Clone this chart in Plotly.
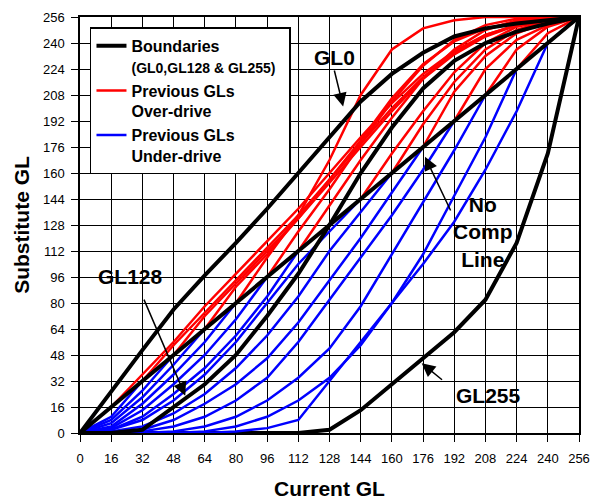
import plotly.graph_objects as go

# ---- data ----
current_gl = [0, 16, 32, 48, 64, 80, 96, 112, 128, 144, 160, 176, 192, 208, 224, 240, 256]
tick_labels = [str(v) for v in current_gl]

# Substitute GL for each previous GL (one value per current GL above)
gl0 = [0, 26, 51, 76, 97, 117, 138, 160, 182, 204, 221, 234, 244, 249, 252, 254, 256]
gl16 = [0, 16, 36, 56, 78, 98, 118, 138, 160, 182, 203, 221, 235, 245, 251, 255, 256]
gl32 = [0, 10, 32, 54, 74, 94, 114, 134, 156, 178, 200, 219, 234, 245, 251, 255, 256]
gl48 = [0, 8, 26, 48, 72, 92, 112, 132, 154, 176, 198, 218, 233, 244, 251, 254, 256]
gl64 = [0, 6, 22, 42, 64, 90, 110, 132, 156, 180, 206, 227, 241, 249, 253, 255, 256]
gl80 = [0, 4, 18, 36, 56, 80, 108, 134, 168, 208, 236, 249, 254, 256, 256, 256, 256]
gl96 = [0, 3, 14, 30, 48, 70, 96, 124, 150, 178, 204, 226, 242, 251, 255, 256, 256]
gl112 = [0, 2, 10, 24, 40, 60, 84, 112, 140, 168, 194, 218, 236, 248, 254, 256, 256]
gl128 = [0, 0, 2, 16, 30, 48, 72, 98, 128, 160, 188, 212, 229, 240, 247, 252, 256]
gl144 = [0, 2, 8, 20, 36, 56, 80, 104, 124, 144, 172, 198, 222, 240, 250, 254, 256]
gl160 = [0, 1, 4, 12, 24, 40, 60, 84, 112, 136, 160, 190, 216, 236, 248, 254, 256]
gl176 = [0, 0, 2, 8, 18, 30, 46, 68, 94, 120, 148, 176, 210, 232, 246, 253, 256]
gl192 = [0, 0, 1, 4, 10, 20, 34, 56, 82, 108, 134, 162, 192, 224, 242, 251, 256]
gl208 = [0, 0, 0, 1, 4, 10, 20, 34, 52, 78, 110, 142, 174, 208, 236, 250, 256]
gl224 = [0, 0, 0, 0, 1, 4, 10, 20, 34, 54, 80, 110, 146, 182, 224, 246, 256]
gl240 = [0, 0, 0, 0, 0, 1, 3, 8, 32, 56, 80, 104, 130, 162, 198, 240, 256]
gl255 = [0, 0, 0, 0, 0, 0, 0, 0, 2, 14, 30, 46, 62, 82, 117, 172, 256]
no_comp = current_gl

previous_gls = [16, 32, 48, 64, 80, 96, 112, 144, 160, 176, 192, 208, 224, 240]
previous_rows = [gl16, gl32, gl48, gl64, gl80, gl96, gl112, gl144, gl160,
                 gl176, gl192, gl208, gl224, gl240]

RED = "#FF0000"
BLUE = "#0000FF"
FONT = "Arial, Liberation Sans, sans-serif"

fig = go.Figure()

# GL255 boundary (drawn first, under the under-drive lines)
fig.add_trace(go.Scatter(x=current_gl, y=gl255, mode="lines",
                         line=dict(color="black", width=4),
                         legendgroup="b", showlegend=False, hoverinfo="skip"))

# under-drive (current < previous)
first = True
for p, row in zip(previous_gls, previous_rows):
    k = current_gl.index(p)
    fig.add_trace(go.Scatter(
        x=current_gl[:k + 1], y=row[:k + 1], mode="lines",
        line=dict(color=BLUE, width=2.5),
        name="<b>Previous GLs</b><br><b>Under-drive</b>",
        legendgroup="u", legendrank=3, showlegend=first, hoverinfo="skip"))
    first = False

# over-drive (current > previous)
first = True
for p, row in zip(previous_gls, previous_rows):
    k = current_gl.index(p)
    fig.add_trace(go.Scatter(
        x=current_gl[k:], y=row[k:], mode="lines",
        line=dict(color=RED, width=2.5),
        name="<b>Previous GLs</b><br><b>Over-drive</b>",
        legendgroup="o", legendrank=2, showlegend=first, hoverinfo="skip"))
    first = False

# boundaries GL0, GL128 and no-compensation line
fig.add_trace(go.Scatter(x=current_gl, y=no_comp, mode="lines",
                         line=dict(color="black", width=4),
                         legendgroup="b", showlegend=False, hoverinfo="skip"))
fig.add_trace(go.Scatter(x=current_gl, y=gl128, mode="lines",
                         line=dict(color="black", width=4),
                         legendgroup="b", showlegend=False, hoverinfo="skip"))
fig.add_trace(go.Scatter(
    x=current_gl, y=gl0, mode="lines", line=dict(color="black", width=4),
    name="<b>Boundaries</b><br><b><span style='font-size:14px'>(GL0,GL128 &amp; GL255)</span></b>&nbsp;&nbsp;",
    legendgroup="b", legendrank=1, showlegend=True, hoverinfo="skip"))

axis_common = dict(
    range=[0, 256], tickmode="array", tickvals=current_gl, ticktext=tick_labels,
    showgrid=True, gridcolor="black", gridwidth=1.1, zeroline=False,
    showline=True, linecolor="black", linewidth=1.5, mirror=True,
    ticks="outside", ticklen=7, tickcolor="black", tickwidth=1.1,
    tickfont=dict(family=FONT, size=13, color="black"),
    fixedrange=True,
)

fig.update_xaxes(**axis_common,
                 title=dict(text="<b>Current GL</b>", standoff=16,
                            font=dict(family=FONT, size=21, color="black")),
                 ticklabelstandoff=6)
fig.update_yaxes(**axis_common,
                 title=dict(text="<b>Substitute GL</b>", standoff=8,
                            font=dict(family=FONT, size=21, color="black")),
                 ticklabelstandoff=4)

label_font = dict(family=FONT, size=21, color="black")
arrow = dict(showarrow=True, arrowhead=2, arrowsize=1.8, arrowwidth=1.5,
             arrowcolor="black", axref="x", ayref="y", text="")
annotations = [
    dict(x=130.8, y=231, text="<b>GL0</b>", showarrow=False, font=label_font),
    dict(x=135, y=201, ax=130.3, ay=224, **arrow),
    dict(x=25.7, y=96.6, text="<b>GL128</b>", showarrow=False, font=label_font),
    dict(x=54, y=23, ax=32.5, ay=83, **arrow),
    dict(x=206.5, y=124, text="<b>No<br>Comp<br>Line</b>", showarrow=False,
         font=label_font, align="center"),
    dict(x=177, y=170, ax=190.5, ay=136, **arrow),
    dict(x=209.5, y=23, text="<b>GL255</b>", showarrow=False, font=label_font),
    dict(x=175.3, y=43, ax=186.5, ay=32, **arrow),
]

fig.update_layout(
    width=593, height=504,
    margin=dict(l=80, r=14, t=17, b=71, autoexpand=False),
    paper_bgcolor="white", plot_bgcolor="white",
    font=dict(family=FONT, color="black"),
    showlegend=True,
    legend=dict(x=0.02, y=0.975, xanchor="left", yanchor="top",
                bgcolor="white", bordercolor="black", borderwidth=1.5,
                font=dict(family=FONT, size=16, color="black"),
                valign="top", tracegroupgap=2, itemwidth=30,
                traceorder="normal"),
    annotations=annotations,
)

# remove the page's default body margin so the figure sits at the window's corner
fig.write_html("out.html", config={"displayModeBar": False},
               post_script="document.body.style.margin='0';")
